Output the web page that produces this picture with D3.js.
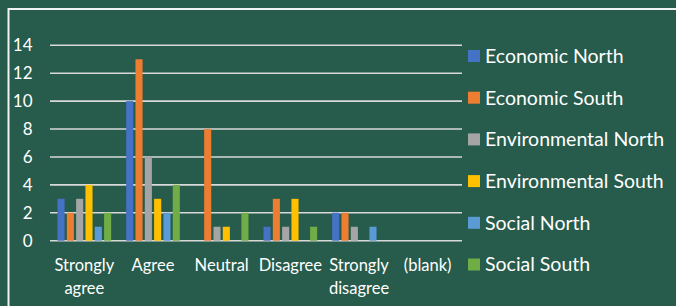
<!DOCTYPE html>
<html>
<head>
<meta charset="utf-8">
<script src="https://cdn.jsdelivr.net/npm/d3@7"></script>
<style>
  body { margin: 0; background: #275b4b; }
  svg { display: block; }
  text { font-family: Lato, "Open Sans", sans-serif; fill: #ffffff; }
</style>
</head>
<body>
<svg id="chart"></svg>
<script>
// datos del gráfico
var categorias = ["Strongly agree", "Agree", "Neutral", "Disagree", "Strongly disagree", "(blank)"];
var series = ["Economic North", "Economic South", "Environmental North", "Environmental South", "Social North", "Social South"];
var colores = ["#4472c4", "#ed7d31", "#a5a5a5", "#ffc000", "#5b9bd5", "#70ad47"];
var economicNorth = [3, 10, 0, 1, 2, 0];
var economicSouth = [2, 13, 8, 3, 2, 0];
var environmentalNorth = [3, 6, 1, 1, 1, 0];
var environmentalSouth = [4, 3, 1, 3, 0, 0];
var socialNorth = [1, 2, 0, 0, 1, 0];
var socialSouth = [2, 4, 2, 1, 0, 0];
var valores = [economicNorth, economicSouth, environmentalNorth, environmentalSouth, socialNorth, socialSouth];
var ticksY = [0, 2, 4, 6, 8, 10, 12, 14];

var width = 676;
var height = 306;

var svg = d3.select("#chart")
  .attr("width", width)
  .attr("height", height);

// marco blanco
svg.append("rect")
  .attr("x", 8.5)
  .attr("y", 9)
  .attr("width", 700)
  .attr("height", 320)
  .attr("fill", "none")
  .attr("stroke", "#f2f2f2")
  .attr("stroke-width", 2);

var x0 = d3.scaleBand()
  .domain(categorias)
  .range([50, 462]);

var x1 = d3.scaleBand()
  .domain(series)
  .range([7.5, x0.bandwidth() - 7.5])
  .paddingInner(0.24);

var y = d3.scaleLinear()
  .domain([0, 14])
  .range([240.7, 45.3]);

// líneas de la rejilla
svg.selectAll(".grid")
  .data(ticksY)
  .enter().append("line")
  .attr("x1", 50)
  .attr("x2", 462)
  .attr("y1", d => y(d))
  .attr("y2", d => y(d))
  .attr("stroke", "#d9d9d9")
  .attr("stroke-width", 1.6);

// etiquetas eje Y
svg.selectAll(".ytick")
  .data(ticksY)
  .enter().append("text")
  .attr("x", 32.5)
  .attr("y", d => y(d))
  .attr("dy", "0.35em")
  .attr("text-anchor", "end")
  .style("font-size", "17px")
  .text(d => d);

// barras
var grupos = svg.selectAll(".grupo")
  .data(categorias)
  .enter().append("g")
  .attr("transform", d => "translate(" + x0(d) + ",0)");

grupos.selectAll("rect")
  .data((c, i) => series.map((s, j) => ({ serie: s, valor: valores[j][i], color: colores[j] })))
  .enter().append("rect")
  .filter(d => d.valor > 0)
  .attr("x", d => x1(d.serie))
  .attr("width", x1.bandwidth())
  .attr("y", d => y(d.valor))
  .attr("height", d => y(0) - y(d.valor))
  .attr("fill", d => d.color);

// etiquetas eje X (con salto de línea)
var etiquetas = svg.selectAll(".xlabel")
  .data(categorias)
  .enter().append("text")
  .attr("x", d => x0(d) + x0.bandwidth() / 2)
  .attr("y", 271)
  .attr("text-anchor", "middle")
  .style("font-size", "16.5px");

etiquetas.each(function (d) {
  var partes = d === "Strongly agree" ? ["Strongly", "agree"] :
    d === "Strongly disagree" ? ["Strongly", "disagree"] : [d];
  var t = d3.select(this);
  partes.forEach((p, k) => {
    t.append("tspan")
      .attr("x", x0(d) + x0.bandwidth() / 2)
      .attr("dy", k === 0 ? 0 : 23)
      .text(p);
  });
});

// leyenda
var leyenda = svg.selectAll(".leyenda")
  .data(series)
  .enter().append("g")
  .attr("transform", (d, i) => "translate(468," + (56 + i * 41.7) + ")");

leyenda.append("rect")
  .attr("x", 0)
  .attr("y", -6)
  .attr("width", 12)
  .attr("height", 12)
  .attr("fill", (d, i) => colores[i]);

leyenda.append("text")
  .attr("x", 17)
  .attr("y", 0)
  .attr("dy", "0.35em")
  .style("font-size", "19.5px")
  .text(d => d);
</script>
</body>
</html>
